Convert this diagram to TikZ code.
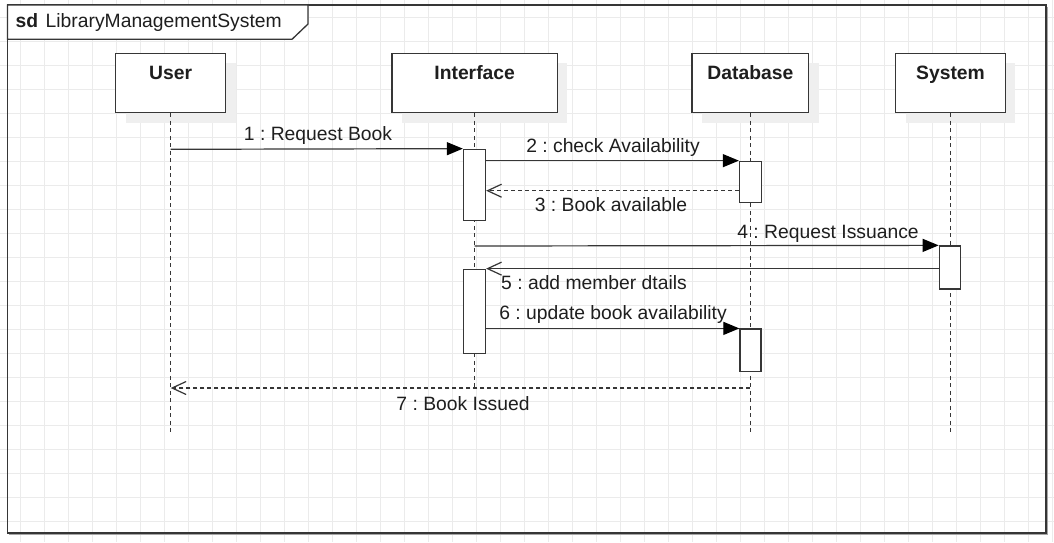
\documentclass[tikz,border=0pt]{standalone}
\usepackage{fontspec}
\setmainfont{Liberation Sans}
\usetikzlibrary{arrows.meta,shadows,calc}
\definecolor{gridc}{HTML}{EBEBEB}
\definecolor{linec}{HTML}{363636}
\definecolor{txtc}{HTML}{1E1E1E}
\definecolor{shadc}{HTML}{EFEFEF}
\frenchspacing
\begin{document}
\frenchspacing
\begin{tikzpicture}[x=1pt,y=-1pt,
  every node/.style={font=\fontsize{19.3pt}{23pt}\selectfont, text=txtc},
  gridline/.style={draw=gridc, line width=1pt},
  actor/.style={draw=linec, fill=white, line width=1.3pt, rectangle, minimum height=59.5pt, inner sep=0pt,
    general shadow={fill=shadc, shadow xshift=10pt, shadow yshift=-10pt}},
  actorlbl/.style={anchor=base, inner sep=0pt, font=\fontsize{19.3pt}{23pt}\selectfont\bfseries},
  act/.style={draw=linec, fill=white, line width=1.3pt, rectangle, minimum width=22pt, inner sep=0pt},
  lifeline/.style={draw=linec, line width=1.1pt, dash pattern=on 4pt off 3.5pt},
  msg/.style={draw=linec, line width=1.2pt, -{Triangle[length=16pt,width=13pt,color=black]}},
  reply/.style={draw=linec, line width=1.1pt, dash pattern=on 4pt off 3pt, -{Straight Barb[length=14pt,width=13pt,line width=1.2pt]}},
  ret/.style={draw=linec, line width=1.2pt, -{Straight Barb[length=14pt,width=13pt,line width=1.2pt]}},
  msglbl/.style={anchor=base, inner sep=0pt},
]
% background and bounding box
\fill[white] (0,0) rectangle (1054,542);
\useasboundingbox (0,0) rectangle (1054,542);
% grid
\foreach \k in {0,...,43} {\draw[gridline] ({20+24*\k},0) -- ({20+24*\k},542);}
\foreach \k in {0,...,21} {\draw[gridline] (0,{17.3+24*\k}) -- (1054,{17.3+24*\k});}
% frame
\draw[black!35, line width=1pt] (9,534.6) -- (1047.6,534.6) -- (1047.6,6.5);
\draw[draw=linec, line width=1.3pt] (7.5,5) rectangle (1046,533);
\draw[draw=linec, fill=white, line width=1.3pt] (7.5,5) -- (308,5) -- (308,24) -- (292,39.3) -- (7.5,39.3) -- cycle;
\node[anchor=base west, inner sep=0pt] (title) at (15.5,27.3) {\textbf{sd}\hspace{7.5pt}LibraryManagementSystem};
% actors
\node[actor, minimum width=110pt] (user) at (170.7,83) {};
\node[actor, minimum width=165.3pt] (iface) at (474.65,83) {};
\node[actor, minimum width=116.7pt] (db) at (750.35,83) {};
\node[actor, minimum width=109.6pt] (sys) at (950.5,83) {};
\node[actorlbl] (userlbl) at (170.7,79.3) {User};
\node[actorlbl] (ifacelbl) at (474.65,79.3) {Interface};
\node[actorlbl] (dblbl) at (750.35,79.3) {Database};
\node[actorlbl] (syslbl) at (950.5,79.3) {System};
% lifeline ends
\coordinate (userend) at (170.7,434);
\coordinate (ifaceend) at (474.65,388);
\coordinate (dbend) at (750.35,434);
\coordinate (sysend) at (950.5,434);
\draw[lifeline] (user.south) -- (userend);
\draw[lifeline] (iface.south) -- (ifaceend);
\draw[lifeline] (db.south) -- (dbend);
\draw[lifeline] (sys.south) -- (sysend);
% activations
\node[act, minimum height=71.4pt] (iact1) at (474.5,185) {};
\node[act, minimum height=41.4pt] (dact1) at (750.5,182) {};
\node[act, minimum height=43pt, minimum width=21pt] (sact) at (949.8,267.5) {};
\node[act, minimum height=84pt] (iact2) at (474.5,311.3) {};
\node[act, minimum height=42.3pt, minimum width=21pt] (dact2) at (750.5,350.2) {};
% message points
\coordinate (m1s) at (170.7,149.3);
\coordinate (m3y) at (600,190.7);
\coordinate (m4s) at (474.65,246);
\coordinate (m7s) at (750.35,388);
\coordinate (m7e) at (170.7,388);
% messages
\draw[msg] (m1s) -- (iact1.north west);
\draw[msg] (iact1.east |- dact1.north) -- (dact1.north west);
\draw[reply] (dact1.west |- m3y) -- (iact1.east |- m3y);
\draw[msg] (m4s) -- (sact.north west);
\draw[ret] (sact.west |- iact2.north) -- (iact2.north east);
\draw[msg] (iact2.east |- dact2.north) -- (dact2.north west);
\draw[reply] (m7s) -- (m7e);
% labels
\node[msglbl] (l1) at (318,140.7) {1 : Request Book};
\node[msglbl] (l2) at (613,152.3) {2 : check Availability};
\node[msglbl] (l3) at (611,211.7) {3 : Book available};
\node[msglbl] (l4) at (828,238) {4 : Request Issuance};
\node[msglbl] (l5) at (594,289.3) {5 : add member dtails};
\node[msglbl] (l6) at (613,319.3) {6 : update book availability};
\node[msglbl] (l7) at (463,410.5) {7 : Book Issued};
\end{tikzpicture}
\end{document}
